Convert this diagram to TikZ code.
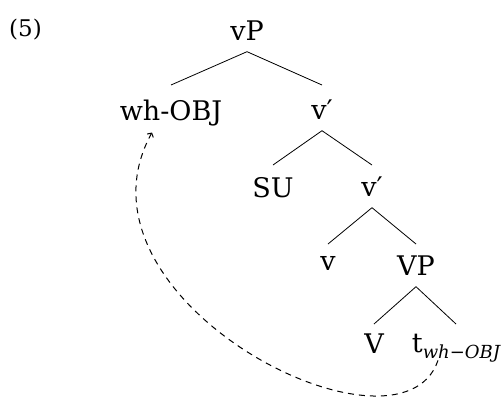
\documentclass[tikz,border=0pt]{standalone}
\usepackage{fontspec}
\setmainfont{DejaVu Serif}
\usetikzlibrary{arrows.meta}
\begin{document}
\begin{tikzpicture}[x=1pt,y=-1pt,
  lab/.style={inner sep=0pt, outer sep=0pt, anchor=north, font=\fontsize{27}{31}\selectfont},
  exlab/.style={inner sep=0pt, outer sep=0pt, anchor=base, font=\fontsize{23}{27}\selectfont},
  br/.style={line width=0.8pt},
  mv/.style={line width=1pt, dash pattern=on 6pt off 5pt, -{Straight Barb[length=3pt,width=7pt]}}]
\useasboundingbox (0,0) rectangle (503,400);
\node[exlab] (ex) at (25.5,36) {(5)};
\node[lab] (vP) at (247,21) {vP};
\node[lab] (whobj) at (171,100) {wh-OBJ};
\node[lab] (vbar1) at (322,100) {v′};
\node[lab] (SU) at (273,177) {SU};
\node[lab] (vbar2) at (372,177) {v′};
\node[lab] (v) at (328,256) {v};
\node[lab] (VP) at (416,256) {VP};
\node[lab] (V) at (374,334) {V};
\node[lab] (t) at (456,334) {t\raisebox{-6pt}{\fontsize{18}{21}\selectfont\itshape wh−OBJ}};
\draw[br] ([yshift=-11pt]vP.south) -- ([yshift=15pt]whobj.north);
\draw[br] ([yshift=-11pt]vP.south) -- ([yshift=15pt]vbar1.north);
\draw[br] ([yshift=-11pt]vbar1.south) -- ([yshift=12pt]SU.north);
\draw[br] ([yshift=-11pt]vbar1.south) -- ([yshift=12pt]vbar2.north);
\draw[br] ([yshift=-11pt]vbar2.south) -- ([yshift=12pt]v.north);
\draw[br] ([yshift=-11pt]vbar2.south) -- ([yshift=12pt]VP.north);
\draw[br] ([yshift=-11pt]VP.south) -- ([yshift=10pt]V.north);
\draw[br] ([yshift=-11pt]VP.south) -- ([yshift=10pt]t.north);
\draw[mv] ([xshift=-18pt,yshift=-8pt]t.base) .. controls +(-38,112) and +(-92,167) .. ([xshift=-19pt,yshift=-12pt]whobj.base);
\end{tikzpicture}
\end{document}
